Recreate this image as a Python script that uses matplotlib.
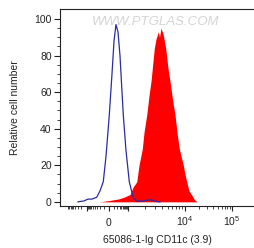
import numpy as np
import matplotlib
matplotlib.use("Agg")
import matplotlib.pyplot as plt
from matplotlib.ticker import FixedLocator, FixedFormatter

plt.rcParams['font.family'] = ['Liberation Sans', 'DejaVu Sans']
plt.rcParams['mathtext.fontset'] = 'custom'
plt.rcParams['mathtext.rm'] = 'Liberation Sans'

# Isotype control histogram (fluorescence intensity, relative count)
iso_x = [-2913, -1428, -888, -547, -303, -191, -109, -54, 6, 63, 111, 166, 234, 320,
         518, 758, 1054, 1241, 1442, 1766, 2252, 2645, 3105, 3650]
iso_y = [0, 0.5, 1.5, 1.5, 2.5, 6, 11, 25, 47.5, 70, 88, 97, 93, 80,
         47.5, 28, 11, 2, 0.5, 0.3, 1, 1, 0.2, 0]

# CD11c stained histogram
cd_x = [-191, 21, 234, 572, 1085, 1226, 1428, 1563, 1787, 1914, 2135, 2341, 2540,
        2902, 3105, 3407, 3575, 3797, 4122, 4593, 5040, 5465, 6045, 6685, 7245,
        7955, 8515, 9345, 10000, 10865, 12165, 13885, 15545, 18010]
cd_y = [0, 0.8, 1.5, 2.5, 4, 8, 11, 20, 29, 38, 47.5, 58, 66,
        84, 89, 93, 90, 95, 92, 84, 73, 66, 56, 47.5, 38,
        29, 25, 20, 15, 11, 6, 3.8, 1.5, 0]

major_ticks = [-1000, 0, 1000, 10000, 100000]
major_labels = ['', '0', '', r'$10^4$', r'$10^5$']
y_ticks = [0, 20, 40, 60, 80, 100]

# biexponential-like display scale
W = 150.0
_T = np.arcsinh(np.array([-1e5, -1e3, 0, 1e3, 1e4, 1e5, 1e6]) / W)
_P = np.array([48, 87, 109, 128, 185, 232, 279], dtype=float)

def fwd(x):
    return np.interp(np.arcsinh(np.asarray(x, dtype=float) / W), _T, _P)

def inv(p):
    return W * np.sinh(np.interp(np.asarray(p, dtype=float), _P, _T))

fig = plt.figure(figsize=(2.54, 2.48), dpi=100)
ax = fig.add_axes([60/254, 42.5/248, 194/254, 196.5/248])
ax.set_xscale('function', functions=(fwd, inv))

ax.fill_between(cd_x, cd_y, 0, color='#ff0000', linewidth=0)
ax.plot(iso_x, iso_y, color='#2b2ba8', linewidth=0.9)

ax.set_xlim(inv(60), inv(254))
ax.set_ylim(-2, 105.5)

minor = ([-v for v in range(2000, 10000, 1000)] +
         list(range(-900, 1000, 100)) +
         list(range(2000, 10000, 1000)) +
         list(range(20000, 100000, 10000)))
minor = [m for m in minor if m != 0]
ax.xaxis.set_major_locator(FixedLocator(major_ticks))
ax.xaxis.set_major_formatter(FixedFormatter(major_labels))
ax.xaxis.set_minor_locator(FixedLocator(minor))
ax.xaxis.set_minor_formatter(FixedFormatter([''] * len(minor)))

ax.set_yticks(y_ticks)
ax.yaxis.set_minor_locator(FixedLocator(list(range(5, 105, 5))))

ax.tick_params(axis='both', which='major', direction='out', length=4.5, width=0.8,
               labelsize=7.5, color='#222222', labelcolor='#222222')
ax.tick_params(axis='both', which='minor', direction='out', length=2, width=0.6,
               color='#222222')
ax.tick_params(axis='y', which='major', pad=1.5)
ax.tick_params(axis='x', which='major', length=3.5, pad=11)
for lab in ax.get_xticklabels():
    lab.set_verticalalignment('baseline')

for s in ['left', 'bottom', 'top']:
    ax.spines[s].set_linewidth(0.8)
    ax.spines[s].set_color('#222222')
ax.spines['right'].set_visible(False)

ax.set_ylabel('Relative cell number', fontsize=7.5, color='#222222', labelpad=10)
ax.set_xlabel('65086-1-Ig CD11c (3.9)', fontsize=7.5, color='#222222', labelpad=5)

fig.text(156/254, 1 - 22/248, 'WWW.PTGLAS.COM', fontsize=9.5, color='#d4d4d4',
         style='italic', ha='center', va='center')

fig.savefig('out.png', dpi=100)
